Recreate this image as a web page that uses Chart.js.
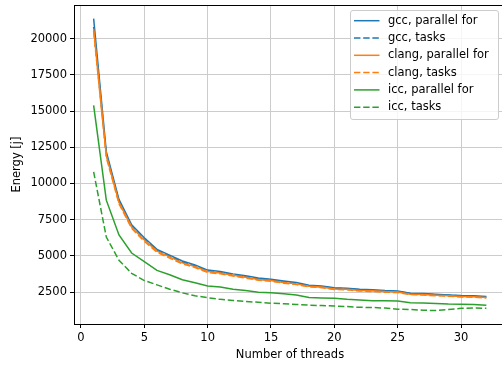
<!DOCTYPE html>
<html>
<head>
<meta charset="utf-8">
<script src="https://cdn.jsdelivr.net/npm/chart.js@4/dist/chart.umd.min.js"></script>
<style>
  html, body { margin: 0; padding: 0; background: #fff; overflow: hidden; }
  #wrap { width: 510px; height: 367px; }
</style>
</head>
<body>
<div id="wrap"><canvas id="chart" width="510" height="367"></canvas></div>
<script>
const threads = Array.from({ length: 32 }, (_, i) => i + 1);

const gccParallel = [21380, 12200, 8900, 7150, 6250, 5450, 5050, 4650, 4380, 4020, 3920, 3760, 3630, 3470, 3390, 3270,
  3160, 2980, 2920, 2800, 2770, 2700, 2660, 2610, 2580, 2430, 2410, 2360, 2310, 2260, 2250, 2190];
const gccTasks = [20800, 12000, 8750, 7050, 6150, 5380, 4980, 4580, 4300, 3960, 3850, 3700, 3560, 3400, 3330, 3200,
  3100, 2930, 2870, 2760, 2730, 2660, 2620, 2570, 2540, 2400, 2370, 2320, 2280, 2240, 2210, 2160];
const clangParallel = [20690, 11950, 8700, 7000, 6100, 5330, 4930, 4520, 4260, 3920, 3820, 3660, 3520, 3370, 3300, 3170,
  3070, 2910, 2860, 2720, 2700, 2620, 2590, 2540, 2510, 2360, 2340, 2290, 2250, 2200, 2180, 2130];
const clangTasks = [20500, 11800, 8600, 6900, 6000, 5250, 4850, 4450, 4200, 3860, 3760, 3610, 3470, 3320, 3250, 3120,
  3020, 2860, 2810, 2680, 2660, 2580, 2550, 2500, 2470, 2330, 2300, 2250, 2220, 2170, 2150, 2100];
const iccParallel = [15390, 8850, 6450, 5200, 4600, 4000, 3700, 3350, 3150, 2920, 2850, 2700, 2620, 2500, 2460, 2380,
  2300, 2130, 2100, 2070, 2000, 1950, 1900, 1900, 1880, 1770, 1750, 1720, 1680, 1660, 1650, 1600];
const iccTasks = [10800, 6300, 4700, 3800, 3300, 3000, 2700, 2450, 2250, 2120, 2000, 1930, 1850, 1800, 1730, 1700,
  1650, 1600, 1570, 1545, 1500, 1450, 1440, 1400, 1320, 1300, 1250, 1230, 1300, 1380, 1400, 1390];

const xTicks = [0, 5, 10, 15, 20, 25, 30];
const yTicks = [2500, 5000, 7500, 10000, 12500, 15000, 17500, 20000];

const FONT = '"DejaVu Sans", sans-serif';
const DASH = [6.4, 2.8];

Chart.defaults.font.family = FONT;
Chart.defaults.font.size = 11.5;
Chart.defaults.color = '#000';

function series(label, data, color, dashed, i) {
  return {
    label,
    data: threads.map((t, k) => ({ x: t, y: data[k] })),
    borderColor: color,
    borderWidth: 1.5,
    borderDash: dashed ? DASH : [],
    pointRadius: 0,
    tension: 0,
    fill: false,
    order: 5 - i, // later series on top, like matplotlib
  };
}

// legend drawn inside the plot, upper right
const insideLegend = {
  id: 'insideLegend',
  afterDraw(chart) {
    const ctx = chart.ctx;
    const area = chart.chartArea;
    ctx.save();
    // top spine
    ctx.strokeStyle = '#000';
    ctx.lineWidth = 1;
    ctx.beginPath();
    ctx.moveTo(area.left, area.top + 0.5);
    ctx.lineTo(area.right, area.top + 0.5);
    ctx.stroke();

    ctx.beginPath();
    ctx.roundRect(350.5, 10.5, 148, 109, 2.5);
    ctx.fillStyle = 'rgba(255,255,255,0.8)';
    ctx.fill();
    ctx.strokeStyle = '#cccccc';
    ctx.stroke();

    ctx.font = '11.5px ' + FONT;
    ctx.textBaseline = 'middle';
    chart.data.datasets.forEach((ds, i) => {
      const y = 20.7 + i * 17.3;
      ctx.beginPath();
      ctx.setLineDash(ds.borderDash);
      ctx.strokeStyle = ds.borderColor;
      ctx.lineWidth = ds.borderWidth;
      ctx.moveTo(354, y);
      ctx.lineTo(379.5, y);
      ctx.stroke();
      ctx.setLineDash([]);
      ctx.fillStyle = '#000';
      ctx.fillText(ds.label, 388, y);
    });
    ctx.restore();
  },
};

new Chart(document.getElementById('chart'), {
  type: 'line',
  data: {
    datasets: [
      series('gcc, parallel for', gccParallel, '#1f77b4', false, 0),
      series('gcc, tasks', gccTasks, '#1f77b4', true, 1),
      series('clang, parallel for', clangParallel, '#ff7f0e', false, 2),
      series('clang, tasks', clangTasks, '#ff7f0e', true, 3),
      series('icc, parallel for', iccParallel, '#2ca02c', false, 4),
      series('icc, tasks', iccTasks, '#2ca02c', true, 5),
    ],
  },
  options: {
    responsive: false,
    animation: false,
    devicePixelRatio: 1,
    layout: { padding: { top: 5, right: 4, left: 0, bottom: 0 } },
    plugins: { legend: { display: false }, tooltip: { enabled: false } },
    scales: {
      x: {
        type: 'linear',
        min: -0.55,
        max: 33.55,
        afterBuildTicks: (s) => { s.ticks = xTicks.map(v => ({ value: v })); },
        afterFit: (s) => { s.height = 43; s.paddingLeft = 0; s.paddingRight = 0; },
        grid: { color: '#cccccc', lineWidth: 1, tickColor: '#000', tickLength: 4 },
        border: { display: true, color: '#000', width: 1 },
        ticks: { padding: 3, maxRotation: 0, color: '#000', callback: (v) => String(v) },
        title: { display: true, text: 'Number of threads', padding: { top: 0, bottom: 5 }, color: '#000' },
      },
      y: {
        type: 'linear',
        min: 300,
        max: 22320,
        afterBuildTicks: (s) => { s.ticks = yTicks.map(v => ({ value: v })); },
        afterFit: (s) => { s.width = 74; s.paddingTop = 0; s.paddingBottom = 0; },
        grid: { color: '#cccccc', lineWidth: 1, tickColor: '#000', tickLength: 4 },
        border: { display: true, color: '#000', width: 1 },
        ticks: { padding: 3, color: '#000', callback: (v) => String(v) },
        title: { display: true, text: 'Energy [j]', padding: { top: 10, bottom: 0 }, color: '#000' },
      },
    },
  },
  plugins: [insideLegend],
});
</script>
</body>
</html>
